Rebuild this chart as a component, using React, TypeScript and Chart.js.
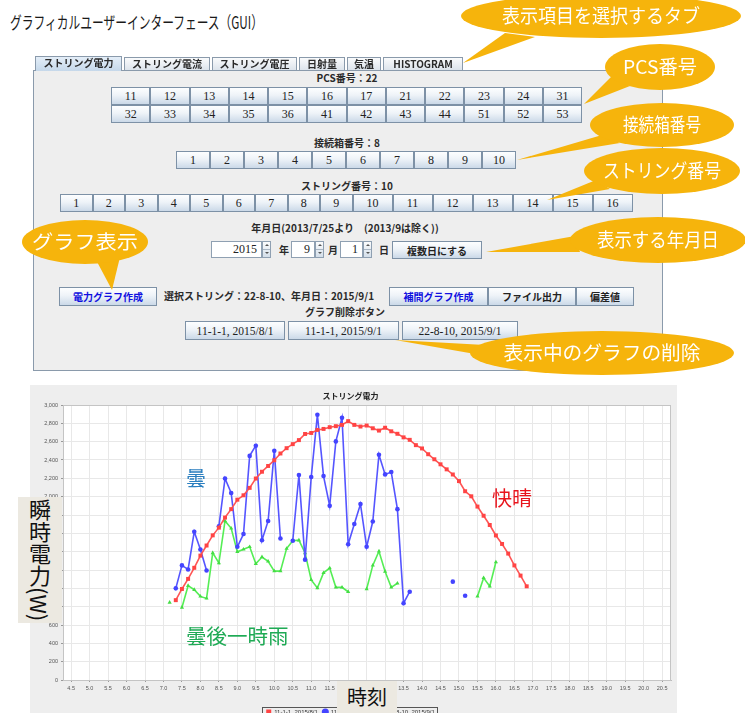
import React, { useEffect, useRef } from "react";
import { Chart, registerables } from "chart.js";

Chart.register(...registerables);

// ---------------- data ----------------
const TIMES = [
  "7:10", "7:20", "7:30", "7:40", "7:50", "8:00",
  "8:10", "8:20", "8:30", "8:40", "8:50", "9:00",
  "9:10", "9:20", "9:30", "9:40", "9:50", "10:00",
  "10:10", "10:20", "10:30", "10:40", "10:50", "11:00",
  "11:10", "11:20", "11:30", "11:40", "11:50", "12:00",
  "12:10", "12:20", "12:30", "12:40", "12:50", "13:00",
  "13:10", "13:20", "13:30", "13:40", "13:50", "14:00",
  "14:10", "14:20", "14:30", "14:40", "14:50", "15:00",
  "15:10", "15:20", "15:30", "15:40", "15:50", "16:00",
  "16:10", "16:20", "16:30", "16:40", "16:50",
];

const SERIES_LABELS = ["11-1-1, 2015/8/1", "11-1-1, 2015/9/1", "22-8-10, 2015/9/1"];

// 快晴 (red)
const CLEAR_W = [
  null, 871, 993, 1103, 1224, 1357, 1467, 1578, 1662, 1772,
  1864, 1967, 2015, 2096, 2198, 2272, 2335, 2397, 2471, 2529,
  2573, 2617, 2684, 2695, 2728, 2739, 2758, 2769, 2783, 2824,
  2783, 2765, 2776, 2746, 2721, 2752, 2713, 2686, 2647, 2620,
  2562, 2526, 2463, 2408, 2353, 2298, 2242, 2170, 2059, 2004,
  1892, 1792, 1691, 1577, 1484, 1379, 1250, 1139, 1022,
];

// 曇 (blue)
const CLOUDY_W = [
  null, 1000, 1250, 1206, 1618, 1423, 1195, null, 1677, 2198,
  2040, 1453, 1592, 2445, 2556, 1525, 1735, 2500, 1544, null,
  1519, 2236, 1313, 2214, 2893, 2225, 1900, 2603, 2860, 1481,
  1702, 1919, 1453, 1729, 2457, 2243, 2269, 1864, 838, 963,
  null, null, null, null, null, null, 1073, null, 919, null,
  null, null, null, null, null, null, null, null, null,
];

// 曇後一時雨 (green)
const RAIN_W = [
  846, null, 791, 1029, 985, 912, 890, 1386, 1276, 1735,
  1655, 1398, 1426, 1453, 1268, 1342, 1294, 1188, 1188, 1434,
  1519, 1525, 1386, 1092, 1004, 1169, 1221, 1011, 1011, 963,
  null, null, 993, 1250, 1404, 1184, 1011, 1055, null, null,
  null, null, null, null, null, null, null, null, null, null,
  912, 1114, 1022, 1287, null, null, null, null, null,
];

const X_TICKS = [
  "4.5", "5.0", "5.5", "6.0", "6.5", "7.0", "7.5", "8.0", "8.5", "9.0", "9.5",
  "10.0", "10.5", "11.0", "11.5", "12.0", "12.5", "13.0", "13.5", "14.0", "14.5",
  "15.0", "15.5", "16.0", "16.5", "17.0", "17.5", "18.0", "18.5", "19.0", "19.5",
  "20.0", "20.5",
];

const TABS = ["ストリング電力", "ストリング電流", "ストリング電圧", "日射量", "気温", "HISTOGRAM"];
const PCS_ROW1 = ["11", "12", "13", "14", "15", "16", "17", "21", "22", "23", "24", "31"];
const PCS_ROW2 = ["32", "33", "34", "35", "36", "41", "42", "43", "44", "51", "52", "53"];
const BOX_NUMBERS = ["1", "2", "3", "4", "5", "6", "7", "8", "9", "10"];
const STRING_NUMBERS = ["1", "2", "3", "4", "5", "6", "7", "8", "9", "10", "11", "12", "13", "14", "15", "16"];
const DELETE_BUTTONS = ["11-1-1, 2015/8/1", "11-1-1, 2015/9/1", "22-8-10, 2015/9/1"];

// ---------------- helpers ----------------
const toHours = (s: string) => {
  const [h, m] = s.split(":").map(Number);
  return h + m / 60;
};
const mk = (vals: (number | null)[]) => TIMES.map((t, i) => ({ x: toHours(t), y: vals[i] }));

const JP = "'Noto Sans CJK JP', sans-serif";
const SERIF = "'Liberation Serif', 'DejaVu Serif', serif";

const bgPlugin = {
  id: "bgPlugin",
  beforeDraw(chart: any) {
    const { ctx, chartArea: a, width, height } = chart;
    ctx.save();
    ctx.fillStyle = "#eeeeee";
    ctx.fillRect(0, 0, width, height);
    ctx.fillStyle = "#ffffff";
    ctx.fillRect(a.left, a.top, a.right - a.left, a.bottom - a.top);
    ctx.restore();
  },
  afterDraw(chart: any) {
    const { ctx, chartArea: a } = chart;
    ctx.save();
    ctx.strokeStyle = "#c4c4c4";
    ctx.lineWidth = 1;
    ctx.strokeRect(a.left + 0.5, a.top + 0.5, a.right - a.left - 1, a.bottom - a.top);
    const lg = chart.legend;
    if (lg && lg.legendHitBoxes && lg.legendHitBoxes.length) {
      let l = Infinity, r = -Infinity, t = Infinity, b = -Infinity;
      lg.legendHitBoxes.forEach((h: any) => {
        l = Math.min(l, h.left);
        r = Math.max(r, h.left + h.width);
        t = Math.min(t, h.top);
        b = Math.max(b, h.top + h.height);
      });
      ctx.strokeStyle = "#555";
      ctx.strokeRect(Math.round(l - 4) + 0.5, Math.round(t - 2) + 0.5, Math.round(r - l + 6), Math.round(b - t + 4));
    }
    ctx.restore();
  },
};

// ---------------- UI pieces ----------------
const btnStyle: React.CSSProperties = {
  position: "absolute",
  boxSizing: "border-box",
  border: "1px solid #7d91a6",
  background: "linear-gradient(#fdfeff 0%, #eef3f8 45%, #cbd9e8 100%)",
  display: "flex",
  alignItems: "center",
  justifyContent: "center",
  color: "#222",
  whiteSpace: "nowrap",
  overflow: "hidden",
};

function Btn(props: { x: number; y: number; w: number; h: number; text: string; style?: React.CSSProperties }) {
  return (
    <div style={{ ...btnStyle, left: props.x, top: props.y, width: props.w, height: props.h, fontFamily: SERIF, fontSize: 12, ...props.style }}>
      {props.text}
    </div>
  );
}

function Label(props: { cx?: number; x?: number; y: number; text: string; style?: React.CSSProperties }) {
  const pos: React.CSSProperties =
    props.cx !== undefined
      ? { left: props.cx - 200, width: 400, textAlign: "center" }
      : { left: props.x };
  return (
    <div
      style={{
        position: "absolute",
        top: props.y - 8,
        height: 16,
        lineHeight: "16px",
        fontFamily: JP,
        fontSize: 10,
        fontWeight: 700,
        color: "#2a2a2a",
        whiteSpace: "nowrap",
        ...pos,
        ...props.style,
      }}
    >
      {props.text}
    </div>
  );
}

function Field(props: { x: number; y: number; w: number; text: string }) {
  return (
    <>
      <div
        style={{
          position: "absolute",
          left: props.x,
          top: props.y,
          width: props.w,
          height: 17,
          boxSizing: "border-box",
          border: "1px solid #8fa0b2",
          background: "#fff",
          fontFamily: SERIF,
          fontSize: 12,
          lineHeight: "15px",
          textAlign: "right",
          paddingRight: 4,
          color: "#222",
        }}
      >
        {props.text}
      </div>
      <div
        style={{
          position: "absolute",
          left: props.x + props.w,
          top: props.y,
          width: 9,
          height: 17,
          boxSizing: "border-box",
          border: "1px solid #8fa0b2",
          background: "linear-gradient(#fbfcfd, #d4dfea)",
        }}
      >
        <div style={{ position: "absolute", left: 0, right: 0, top: 7, borderTop: "1px solid #a9b6c4" }} />
        <div style={{ position: "absolute", left: 2, top: 2, width: 0, height: 0, borderLeft: "2px solid transparent", borderRight: "2px solid transparent", borderBottom: "2px solid #555" }} />
        <div style={{ position: "absolute", left: 2, top: 10, width: 0, height: 0, borderLeft: "2px solid transparent", borderRight: "2px solid transparent", borderTop: "2px solid #555" }} />
      </div>
    </>
  );
}

const CALLOUTS = [
  { text: "表示項目を選択するタブ", cx: 601, cy: 16, rx: 140, ry: 22, len: 198, tail: [[505, 33], [535, 37], [463, 63]] },
  { text: "PCS番号", cx: 660, cy: 67, rx: 55, ry: 23, len: 74, tail: [[612, 76], [630, 86], [584, 104]] },
  { text: "接続箱番号", cx: 662, cy: 125, rx: 72, ry: 22, len: 78, tail: [[602, 135], [620, 143], [517, 160]] },
  { text: "ストリング番号", cx: 662, cy: 171, rx: 78, ry: 23, len: 118, tail: [[596, 180], [610, 189], [547, 200]] },
  { text: "グラフ表示", cx: 85, cy: 242, rx: 63, ry: 22, len: 106, tail: [[95, 258], [120, 257], [112, 290]] },
  { text: "表示する年月日", cx: 658, cy: 240, rx: 88, ry: 23, len: 122, tail: [[575, 236], [580, 252], [486, 252]] },
  { text: "表示中のグラフの削除", cx: 602, cy: 353, rx: 132, ry: 22, len: 197, tail: [[485, 345], [498, 358], [395, 340]] },
];

export default function App() {
  const ref = useRef<HTMLCanvasElement>(null);

  useEffect(() => {
    if (!ref.current) return;
    const chart = new Chart(ref.current, {
      type: "line",
      data: {
        datasets: [
          {
            label: SERIES_LABELS[0],
            data: mk(CLEAR_W),
            borderColor: "#ff5555",
            backgroundColor: "#ff4444",
            pointStyle: "rect",
            pointRadius: 2.8,
            pointBorderWidth: 0,
            borderWidth: 1.6,
          },
          {
            label: SERIES_LABELS[1],
            data: mk(CLOUDY_W),
            borderColor: "#5555ff",
            backgroundColor: "#4444ff",
            pointStyle: "circle",
            pointRadius: 2.3,
            pointBorderWidth: 0,
            borderWidth: 1.6,
          },
          {
            label: SERIES_LABELS[2],
            data: mk(RAIN_W),
            borderColor: "#55ee55",
            backgroundColor: "#44dd44",
            pointStyle: "triangle",
            pointRadius: 2.4,
            pointBorderWidth: 0,
            borderWidth: 1.6,
          },
        ],
      },
      options: {
        animation: false,
        responsive: false,
        maintainAspectRatio: false,
        spanGaps: false,
        layout: { padding: { left: 0, right: 6, top: 0, bottom: 0 } },
        plugins: {
          title: {
            display: true,
            text: "ストリング電力",
            color: "#222",
            font: { size: 8, weight: "bold", family: JP },
            padding: { top: 6, bottom: 4.4 },
          },
          legend: {
            position: "bottom",
            labels: {
              usePointStyle: true,
              boxWidth: 5,
              boxHeight: 5,
              padding: 5,
              color: "#333",
              font: { size: 6, family: "'Liberation Sans', sans-serif" },
            },
          },
          tooltip: { enabled: false },
        },
        scales: {
          x: {
            type: "linear",
            min: 4.28,
            max: 20.74,
            afterBuildTicks: (s: any) => {
              s.ticks = X_TICKS.map((v) => ({ value: parseFloat(v) }));
            },
            afterFit: (s: any) => {
              s.height = 24;
            },
            ticks: {
              autoSkip: false,
              maxRotation: 0,
              padding: 3,
              color: "#555",
              font: { size: 5.5, family: "'Liberation Sans', sans-serif" },
              callback: (v: any) => Number(v).toFixed(1),
            },
            grid: { color: "#e8e8e8", tickLength: 2, tickColor: "#999" },
            border: { color: "#bbbbbb" },
          },
          y: {
            min: 0,
            max: 3000,
            afterFit: (s: any) => {
              s.width = 33;
            },
            ticks: {
              stepSize: 200,
              padding: 3,
              color: "#555",
              font: { size: 5.5, family: "'Liberation Sans', sans-serif" },
              callback: (v: any) => Number(v).toLocaleString("en-US"),
            },
            grid: { color: "#e8e8e8", tickLength: 2, tickColor: "#999" },
            border: { color: "#bbbbbb" },
          },
        },
      },
      plugins: [bgPlugin],
    } as any);
    return () => chart.destroy();
  }, []);

  // tabs geometry
  const tabW = [87, 86, 85, 46, 34, 80];
  let tx = 35;
  const tabs = TABS.map((t, i) => {
    const x = tx;
    tx += tabW[i] + 2;
    const sel = i === 0;
    return (
      <div
        key={t}
        style={{
          position: "absolute",
          left: x,
          top: sel ? 56 : 57,
          width: tabW[i],
          height: sel ? 15 : 14,
          boxSizing: "border-box",
          border: "1px solid #8a9aab",
          borderBottom: sel ? "none" : "1px solid #8a9aab",
          background: sel ? "linear-gradient(#e4eef8, #c5d8ea)" : "linear-gradient(#fafbfc, #dde4ec)",
          fontFamily: JP,
          fontSize: 10,
          fontWeight: 700,
          color: "#2a2a2a",
          textAlign: "center",
          lineHeight: "12px",
          whiteSpace: "nowrap",
          zIndex: sel ? 2 : 1,
        }}
      >
        {t}
      </div>
    );
  });

  const strWidths = STRING_NUMBERS.map((_, i) => (i < 9 ? 32.5 : 40));
  let sx = 60;
  const strBtns = STRING_NUMBERS.map((n, i) => {
    const x = sx;
    sx += strWidths[i];
    return <Btn key={"s" + n} x={x} y={194} w={strWidths[i]} h={18} text={n} />;
  });

  const delX = [185, 288, 402];
  const delW = [100, 111, 116];

  return (
    <div
      style={{
        position: "fixed",
        left: 0,
        top: 0,
        width: 745,
        height: 713,
        overflow: "hidden",
        background: "#ffffff",
        fontFamily: JP,
      }}
    >
      {/* title */}
      <svg width={745} height={40} style={{ position: "absolute", left: 0, top: 0 }}>
        <text x={10} y={29} fontFamily={JP} fontSize={17} fill="#1a1a1a" textLength={253} lengthAdjust="spacingAndGlyphs">
          グラフィカルユーザーインターフェース（GUI）
        </text>
      </svg>

      {/* GUI panel */}
      <div
        style={{
          position: "absolute",
          left: 33,
          top: 70,
          width: 630,
          height: 301,
          boxSizing: "border-box",
          border: "1px solid #8a9aab",
          background: "#eeeeee",
        }}
      />
      {tabs}

      <Label cx={347} y={78} text="PCS番号：22" />
      {PCS_ROW1.map((n, i) => (
        <Btn key={"p1" + n} x={111 + i * 39.25} y={87} w={39.25} h={18} text={n} />
      ))}
      {PCS_ROW2.map((n, i) => (
        <Btn key={"p2" + n} x={111 + i * 39.25} y={105} w={39.25} h={18} text={n} />
      ))}

      <Label cx={347} y={143} text="接続箱番号：8" />
      {BOX_NUMBERS.map((n, i) => (
        <Btn key={"b" + n} x={176 + i * 34} y={151} w={34} h={18} text={n} />
      ))}

      <Label cx={347} y={186} text="ストリング番号：10" />
      {strBtns}

      <Label cx={345} y={228} text="年月日(2013/7/25より　(2013/9は除く))" />
      <Field x={211} y={241} w={51} text="2015" />
      <Label x={279} y={250} text="年" />
      <Field x={291} y={241} w={24} text="9" />
      <Label x={328} y={250} text="月" />
      <Field x={340} y={241} w={23} text="1" />
      <Label x={379} y={250} text="日" />
      <Btn x={392} y={241} w={90} h={18} text="複数日にする" style={{ fontFamily: JP, fontSize: 10, fontWeight: 700 }} />

      <Btn x={59} y={287} w={98} h={19} text="電力グラフ作成" style={{ fontFamily: JP, fontSize: 10, fontWeight: 700, color: "#1010e0" }} />
      <Label x={164} y={296} text="選択ストリング：22-8-10、年月日：2015/9/1" />
      <Btn x={389} y={287} w={99} h={19} text="補間グラフ作成" style={{ fontFamily: JP, fontSize: 10, fontWeight: 700, color: "#1010e0" }} />
      <Btn x={488} y={287} w={88} h={19} text="ファイル出力" style={{ fontFamily: JP, fontSize: 10, fontWeight: 700 }} />
      <Btn x={576} y={287} w={58} h={19} text="偏差値" style={{ fontFamily: JP, fontSize: 10, fontWeight: 700 }} />

      <Label cx={345} y={312} text="グラフ削除ボタン" />
      {DELETE_BUTTONS.map((t, i) => (
        <Btn key={"d" + i} x={delX[i]} y={321} w={delW[i]} h={19} text={t} style={{ fontSize: 11.5 }} />
      ))}

      {/* chart */}
      <canvas
        ref={ref}
        width={647}
        height={340}
        style={{ position: "absolute", left: 30, top: 385, width: 647, height: 340 }}
      />

      {/* chart annotations */}
      <div style={{ position: "absolute", left: 186, top: 466, fontFamily: JP, fontSize: 20, lineHeight: "24px", color: "#2b7fc0" }}>曇</div>
      <div style={{ position: "absolute", left: 492, top: 486, fontFamily: JP, fontSize: 20, lineHeight: "24px", color: "#e8141c" }}>快晴</div>
      <div style={{ position: "absolute", left: 186, top: 623, fontFamily: JP, fontSize: 20.5, lineHeight: "24px", color: "#1faa55" }}>曇後一時雨</div>

      <div
        style={{
          position: "absolute",
          left: 18,
          top: 497,
          width: 44,
          height: 126,
          background: "#ece9e1",
          overflow: "hidden",
        }}
      >
        <div
          style={{
            position: "absolute",
            left: 8,
            top: 2,
            height: 124,
            writingMode: "vertical-rl",
            whiteSpace: "nowrap",
            fontFamily: JP,
            fontSize: 22,
            lineHeight: "28px",
            color: "#111",
          }}
        >
          瞬時電力(W)
        </div>
      </div>

      <div
        style={{
          position: "absolute",
          left: 337,
          top: 681,
          width: 60,
          height: 32,
          background: "#ece9e1",
          fontFamily: JP,
          fontSize: 20,
          lineHeight: "32px",
          textAlign: "center",
          color: "#111",
        }}
      >
        時刻
      </div>

      {/* callouts */}
      <svg width={745} height={713} style={{ position: "absolute", left: 0, top: 0, pointerEvents: "none" }}>
        {CALLOUTS.map((c, i) => (
          <g key={i}>
            <polygon points={c.tail.map((p) => p.join(",")).join(" ")} fill="#f6b40c" />
            <ellipse cx={c.cx} cy={c.cy} rx={c.rx} ry={c.ry} fill="#f6b40c" />
            <text
              x={c.cx - c.len / 2}
              y={c.cy + 7}
              fontFamily={JP}
              fontSize={19}
              fill="#ffffff"
              textLength={c.len}
              lengthAdjust="spacingAndGlyphs"
            >
              {c.text}
            </text>
          </g>
        ))}
      </svg>
    </div>
  );
}
